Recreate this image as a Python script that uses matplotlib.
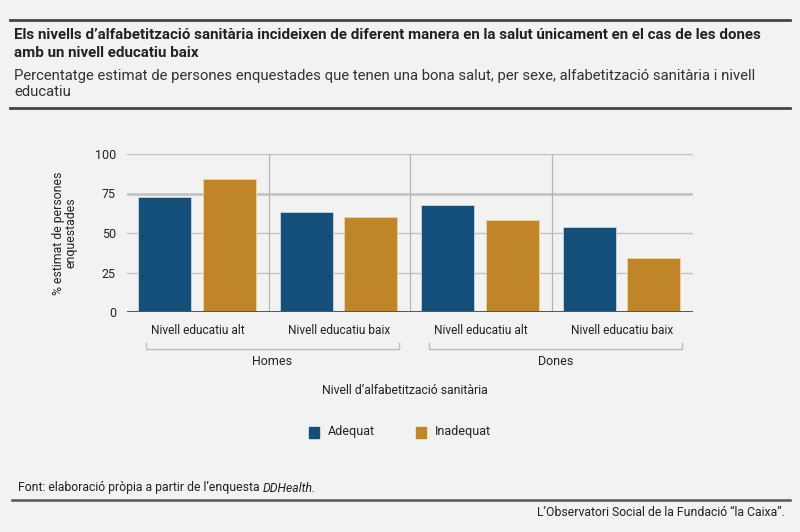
import matplotlib.pyplot as plt
import matplotlib.transforms as mtransforms
from matplotlib.patches import Rectangle
import numpy as np

# data
categories = ["Nivell educatiu alt", "Nivell educatiu baix",
              "Nivell educatiu alt", "Nivell educatiu baix"]
sexes = ["Homes", "Dones"]
adequat = [73, 63, 68, 54]
inadequat = [84, 60, 58, 34]
yticks = [0, 25, 50, 75, 100]

blue = "#134f78"
gold = "#c08526"
bg = "#f2f2f2"
txt = "#222222"

plt.rcParams["font.family"] = ["Roboto", "DejaVu Sans"]

W, H = 800, 532
fig = plt.figure(figsize=(8, 5.32), dpi=100, facecolor=bg)


def fx(px):
    return px / W


def fy(py):
    return 1 - py / H


ax = fig.add_axes([fx(127), fy(312), fx(693) - fx(127), fy(154) - fy(312)])
ax.set_facecolor(bg)

x = np.arange(len(categories))
bw = 0.375
ax.bar(x - 0.232, adequat, bw, color=blue, edgecolor="#c9d6e0", linewidth=0.6, zorder=3)
ax.bar(x + 0.222, inadequat, bw, color=gold, edgecolor="#ead2a8", linewidth=0.6, zorder=3)

ax.set_xlim(-0.5, len(categories) - 0.5)
ax.set_ylim(0, 100)
ax.set_yticks(yticks)
ax.set_yticklabels([str(v) for v in yticks], fontsize=9, color=txt)
ax.tick_params(axis="y", length=0, pad=8)
ax.set_xticks(x)
ax.set_xticklabels(categories, fontsize=8.6, color=txt)
ax.tick_params(axis="x", length=0, pad=9)

for v in yticks[1:]:
    lw = 2.0 if v == 75 else 1.0
    ax.axhline(v, color="#c4c4c4", lw=lw, zorder=1)
for b in x[:-1] + 0.5:
    ax.axvline(b, color="#b5b5b5", lw=0.9, zorder=1)
ax.axhline(0, color="#555555", lw=1.4, zorder=4)
for s in ax.spines.values():
    s.set_visible(False)

ax.set_ylabel("% estimat de persones\nenquestades", fontsize=8.8, color=txt,
              labelpad=12, linespacing=1.0)

# group brackets below the category labels
trans = mtransforms.blended_transform_factory(ax.transData, ax.transAxes)
for i, name in enumerate(sexes):
    x0 = 2 * i - 0.366
    x1 = 2 * i + 1.42
    yb = -0.234
    ax.plot([x0, x0, x1, x1], [yb + 0.04, yb, yb, yb + 0.04], transform=trans,
            color="#bdbdbd", lw=1.0, clip_on=False)
    ax.text((x0 + x1) / 2, -0.315, name, transform=trans, ha="center", va="center",
            fontsize=9, color=txt)

fig.text(fx(405), fy(391), "Nivell d\u2019alfabetització sanitària", ha="center",
         va="center", fontsize=8.8, color=txt)

# legend
for lx, col, lab in [(309, blue, "Adequat"), (416, gold, "Inadequat")]:
    fig.patches.append(Rectangle((fx(lx), fy(438)), fx(10), fy(0) - fy(11),
                                 transform=fig.transFigure, color=col))
    fig.text(fx(lx + 19), fy(432), lab, ha="left", va="center", fontsize=9, color=txt)

# header
fig.add_artist(plt.Line2D([fx(10), fx(790)], [fy(20), fy(20)], color="#444444", lw=2))
fig.text(fx(14), fy(44),
         "Els nivells d\u2019alfabetització sanitària incideixen de diferent manera en la salut "
         "únicament en el cas de les dones\namb un nivell educatiu baix",
         ha="left", va="center", fontsize=10.9, fontweight="bold", color=txt, linespacing=1.3)
fig.text(fx(14), fy(84),
         "Percentatge estimat de persones enquestades que tenen una bona salut, per sexe, "
         "alfabetització sanitària i nivell\neducatiu",
         ha="left", va="center", fontsize=10.7, color="#333333", linespacing=1.25)
fig.add_artist(plt.Line2D([fx(10), fx(790)], [fy(108), fy(108)], color="#444444", lw=2))

# footer
t1 = fig.text(fx(18), fy(488), "Font: elaboració pròpia a partir de l\u2019enquesta ",
              ha="left", va="center", fontsize=8.8, color=txt)
r = fig.canvas.get_renderer()
bb = t1.get_window_extent(renderer=r)
fig.text(bb.x1 / W, fy(488), "DDHealth.", ha="left", va="center", fontsize=8.8,
         color=txt, style="italic")
fig.add_artist(plt.Line2D([fx(12), fx(790)], [fy(500), fy(500)], color="#555555", lw=1.8))
fig.text(fx(785), fy(512), "L\u2019Observatori Social de la Fundació \u201cla Caixa\u201d.",
         ha="right", va="center", fontsize=8.8, color=txt)

fig.savefig("out.png", dpi=100, facecolor=bg)
